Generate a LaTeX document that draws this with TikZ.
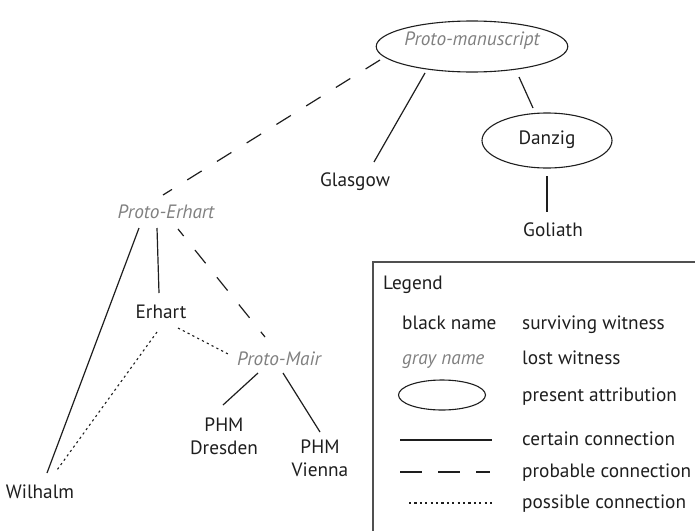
\documentclass[tikz,border=0pt]{standalone}
\usepackage{fontspec}
\setmainfont{PT Sans}
\usetikzlibrary{shapes.geometric}
\definecolor{lostgray}{RGB}{128,128,128}
\definecolor{inkc}{RGB}{30,30,30}
\definecolor{framec}{RGB}{80,80,80}
\newcommand{\dfont}{\fontsize{19.3}{23}\selectfont}
\begin{document}
\begin{tikzpicture}[x=1pt,y=-1pt,
  font=\dfont,
  lbl/.style={anchor=base, inner sep=0pt, text=inkc},
  lost/.style={lbl, text=lostgray, font=\dfont\itshape},
  twoline/.style={anchor=north, inner sep=0pt, text=inkc, align=center},
  attr/.style={draw=inkc, ellipse, line width=1.1pt, inner sep=0pt},
  certain/.style={draw=inkc, line width=1.2pt},
  probable/.style={draw=inkc, line width=1.2pt, dash pattern=on 17pt off 18pt},
  possible/.style={draw=inkc, line width=1.1pt, dash pattern=on 2.2pt off 3.2pt},
  frame/.style={draw=framec, line width=1.4pt},
  lgtext/.style={anchor=base west, inner sep=0pt, text=inkc},
]
\useasboundingbox (0,0) rectangle (695,530);
\clip (0,0) rectangle (695,530);

% ---- nodes ----
\node[attr, minimum width=177pt, minimum height=51pt, text=lostgray,
      font=\dfont\itshape, text height=13pt, text depth=15pt]
      (pm) at (472,46.5) {Proto-manuscript};
\node[attr, minimum width=130pt, minimum height=55pt, text=inkc,
      text height=13pt, text depth=6pt]
      (danzig) at (547,140.5) {Danzig};
\node[lbl] (glasgow) at (355,186) {Glasgow};
\node[lbl] (goliath) at (553,236) {Goliath};
\node[lost] (pe) at (166,218) {Proto-Erhart};
\node[lbl] (erhart) at (161,318) {Erhart};
\node[lost] (pmair) at (279,365) {Proto-Mair};
\node[twoline] (dresden) at (224,418) {PHM\\Dresden};
\node[twoline] (vienna) at (320,440) {PHM\\Vienna};
\node[lbl] (wilhalm) at (40,498) {Wilhalm};

% ---- connectors ----
\draw[certain] ([shift={(-47,26.5)}]pm.center) -- ([shift={(19,-24)}]glasgow.base);
\draw[certain] ([shift={(47,30.5)}]pm.center) -- ([shift={(-14,-32.5)}]danzig.center);
\draw[certain] ([shift={(0,35.5)}]danzig.center) -- ([shift={(-6,-24)}]goliath.base);
\draw[probable] ([shift={(-92,13.5)}]pm.center) -- ([shift={(-3,-23)}]pe.base);
\draw[certain] ([shift={(-27,10)}]pe.base) -- ([shift={(7,-25)}]wilhalm.base);
\draw[certain] ([shift={(-9,10)}]pe.base) -- ([shift={(-2,-25)}]erhart.base);
\draw[probable, dash phase=8pt] ([shift={(12,11)}]pe.base) -- ([shift={(-14,-28)}]pmair.base);
\draw[possible] ([shift={(17,10)}]erhart.base) -- ([shift={(-49,-10)}]pmair.base);
\draw[possible] ([shift={(-4,14)}]erhart.base) -- ([shift={(17,-28)}]wilhalm.base);
\draw[certain] ([shift={(-21,8)}]pmair.base) -- ([shift={(-1,-13)}]dresden.north);
\draw[certain] ([shift={(4,8)}]pmair.base) -- ([shift={(0,-8)}]vienna.north);

% ---- legend ----
\draw[frame] (373,262) rectangle (720,560);
\node[lgtext] (legtitle) at (383,289) {Legend};
\node[lgtext] (lgblack) at (402,329) {black name};
\node[lgtext] (lgsurv) at (522,329) {surviving witness};
\node[lgtext, text=lostgray, font=\dfont\itshape] (lggray) at (402,364) {gray name};
\node[lgtext] (lglost) at (522,364) {lost witness};
\node[attr, minimum width=87pt, minimum height=30pt] (lgell) at (442,395) {};
\node[lgtext] (lgpres) at (522,401) {present attribution};
\coordinate (lgs1) at (400,440);
\coordinate (lgs2) at (492,440);
\draw[certain] (lgs1) -- (lgs2);
\node[lgtext] (lgcert) at (522,445) {certain connection};
\coordinate (lgd1) at (400,472);
\coordinate (lgd2) at (490,472);
\draw[probable, dash pattern=on 22pt off 16pt] (lgd1) -- (lgd2);
\node[lgtext] (lgprob) at (522,477) {probable connection};
\coordinate (lgp1) at (409,503);
\coordinate (lgp2) at (495,503);
\draw[possible] (lgp1) -- (lgp2);
\node[lgtext] (lgposs) at (522,508) {possible connection};
\end{tikzpicture}
\end{document}
